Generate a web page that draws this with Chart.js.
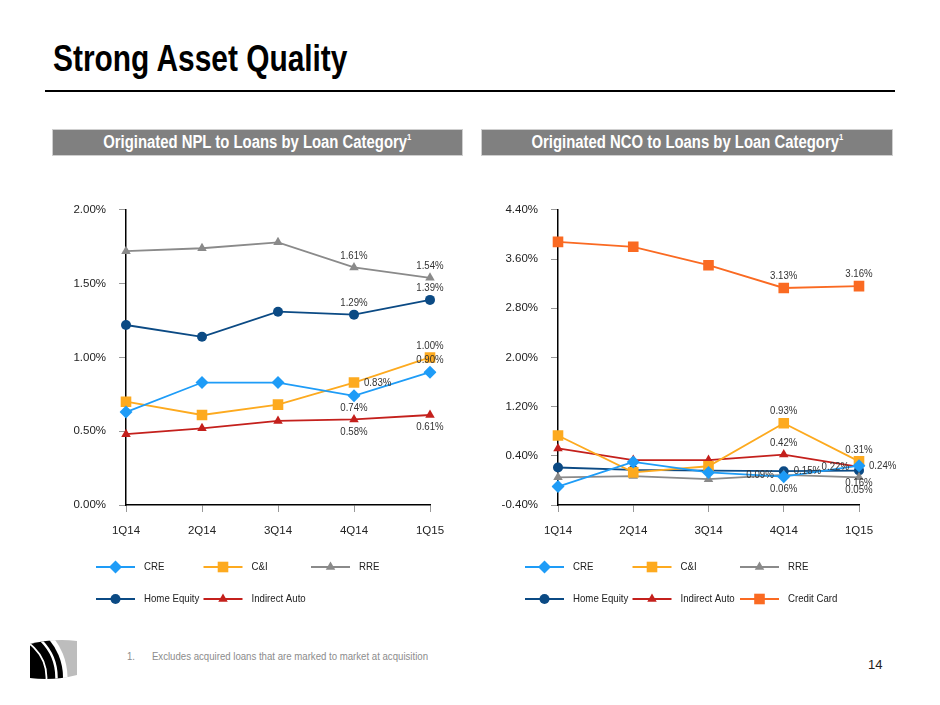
<!DOCTYPE html>
<html>
<head>
<meta charset="utf-8">
<script src="https://cdn.jsdelivr.net/npm/chart.js@4.4.1/dist/chart.umd.min.js"></script>
<style>
  body { margin: 0; background: #fff; width: 940px; height: 705px; position: relative; overflow: hidden;
         font-family: "Liberation Sans", Arial, sans-serif; }
  .narrow { display: inline-block; white-space: nowrap; transform: scaleX(0.83); transform-origin: 0 0; }
  #title { position: absolute; left: 53px; top: 41px; font-size: 36px; font-weight: bold; line-height: 36px; color: #000; }
  #rule { position: absolute; left: 45px; top: 90px; width: 850px; height: 2px; background: #000; }
  .band { position: absolute; top: 129px; height: 27px; background: #808080; border: 1px solid #cfcfcf;
          box-sizing: border-box; color: #fff; font-weight: bold; font-size: 17.5px; line-height: 25px; text-align: center; }
  .band .narrow { transform: scaleX(0.85); transform-origin: 50% 0; }
  .band sup { font-size: 9px; line-height: 9px; vertical-align: top; position: relative; top: 3px; }
  .cbox { position: absolute; top: 190px; width: 440px; height: 430px; }
  #note { position: absolute; left: 127px; top: 650px; font-size: 11px; color: #8c8c8c; }
  #note .narrow { transform: scaleX(0.875); }
  #note b { font-weight: normal; display: inline-block; width: 28.5px; }
  #page { position: absolute; left: 868px; top: 657px; font-size: 13px; color: #222; }
  #logo { position: absolute; left: 29px; top: 637px; }
</style>
</head>
<body>
<div id="title"><span class="narrow">Strong Asset Quality</span></div>
<div id="rule"></div>
<div class="band" style="left:52px;width:411px"><span class="narrow">Originated NPL to Loans by Loan Category<sup>1</sup></span></div>
<div class="band" style="left:481px;width:412px"><span class="narrow">Originated NCO to Loans by Loan Category<sup>1</sup></span></div>

<div class="cbox" style="left:40px"><canvas id="npl" width="440" height="430"></canvas></div>
<div class="cbox" style="left:472px"><canvas id="nco" width="440" height="430"></canvas></div>

<svg id="logo" width="50" height="44" viewBox="0 0 50 44">
  <defs><clipPath id="lc"><path d="M1,7 Q25,1 48,4 L48,38 Q25,44 1,41 Z"/></clipPath></defs>
  <g clip-path="url(#lc)">
    <rect x="0" y="0" width="50" height="44" fill="#bdbdbd"/>
    <circle cx="-24.5" cy="40.5" r="63" fill="#fff"/>
    <circle cx="-24.5" cy="40.5" r="58.5" fill="#000"/>
    <circle cx="-24.5" cy="40.5" r="52" fill="none" stroke="#fff" stroke-width="2.5"/>
    <circle cx="-24.5" cy="40.5" r="42" fill="none" stroke="#fff" stroke-width="1.8"/>
  </g>
</svg>
<div id="note"><span class="narrow"><b>1.</b>Excludes acquired loans that are marked to market at acquisition</span></div>
<div id="page">14</div>

<script>
const quarters = ['1Q14', '2Q14', '3Q14', '4Q14', '1Q15'];

// originated NPL to loans, %
const nplCRE = [0.63, 0.83, 0.83, 0.74, 0.90];
const nplCI = [0.70, 0.61, 0.68, 0.83, 1.00];
const nplRRE = [1.72, 1.74, 1.78, 1.61, 1.54];
const nplHomeEquity = [1.22, 1.14, 1.31, 1.29, 1.39];
const nplIndirectAuto = [0.48, 0.52, 0.57, 0.58, 0.61];
const nplTicks = [0, 0.5, 1.0, 1.5, 2.0];

// originated NCO to loans, %
const ncoCRE = [-0.10, 0.30, 0.13, 0.06, 0.24];
const ncoCI = [0.73, 0.13, 0.23, 0.93, 0.31];
const ncoRRE = [0.05, 0.07, 0.02, 0.09, 0.05];
const ncoHomeEquity = [0.21, 0.17, 0.16, 0.15, 0.16];
const ncoIndirectAuto = [0.52, 0.33, 0.33, 0.42, 0.22];
const ncoCreditCard = [3.88, 3.80, 3.50, 3.13, 3.16];
const ncoTicks = [-0.4, 0.4, 1.2, 2.0, 2.8, 3.6, 4.4];

const FONT = '"Liberation Sans", Arial, sans-serif';

const look = {
  'CRE': { color: '#1E9CF7', pointStyle: 'rectRot', radius: 6.5 },
  'C&I': { color: '#FDAA1F', pointStyle: 'rect', radius: 7.5 },
  'RRE': { color: '#8A8A8A', pointStyle: 'triangle', radius: 5.5 },
  'Home Equity': { color: '#0B4A84', pointStyle: 'circle', radius: 5 },
  'Indirect Auto': { color: '#C4201C', pointStyle: 'triangle', radius: 5.5 },
  'Credit Card': { color: '#FA6A22', pointStyle: 'rect', radius: 7.5 }
};

// where the value tags sit, by series and point index
const nplTags = {
  'RRE': { 3: 'above', 4: 'above' },
  'Home Equity': { 3: 'above', 4: 'above' },
  'C&I': { 3: 'right', 4: 'above' },
  'CRE': { 3: 'below', 4: 'above' },
  'Indirect Auto': { 3: 'below', 4: 'below' }
};
const ncoTags = {
  'Credit Card': { 3: 'above', 4: 'above' },
  'C&I': { 3: 'above', 4: 'above' },
  'Indirect Auto': { 3: 'above', 4: 'left' },
  'Home Equity': { 3: 'right', 4: 'below' },
  'RRE': { 3: 'left', 4: 'below' },
  'CRE': { 3: 'below', 4: 'right' }
};

function series(label, values) {
  const s = look[label];
  return {
    label: label,
    data: values,
    borderColor: s.color,
    backgroundColor: s.color,
    borderWidth: 1.8,
    pointStyle: s.pointStyle,
    pointRadius: s.radius,
    pointBorderWidth: 0,
    pointBackgroundColor: s.color
  };
}

// text squeezed sideways, like the narrow face of the original
function narrowText(ctx, txt, x, y, align, size) {
  ctx.save();
  ctx.font = size + 'px ' + FONT;
  ctx.textAlign = align;
  ctx.textBaseline = 'middle';
  ctx.translate(x, y);
  ctx.scale(0.84, 1);
  ctx.fillText(txt, 0, 0);
  ctx.restore();
}

const pointTags = {
  id: 'pointTags',
  afterDatasetsDraw(chart, args, opts) {
    const ctx = chart.ctx;
    chart.data.datasets.forEach((ds, i) => {
      const where = opts.at[ds.label];
      if (!where) return;
      const meta = chart.getDatasetMeta(i);
      Object.keys(where).forEach(k => {
        const p = meta.data[k];
        const txt = ds.data[k].toFixed(2) + '%';
        let x = p.x, y = p.y, align = 'center';
        if (where[k] === 'above') y -= 12;
        else if (where[k] === 'below') y += 12;
        else if (where[k] === 'right') { x += 10; align = 'left'; }
        else if (where[k] === 'left') { x -= 10; align = 'right'; }
        ctx.fillStyle = '#333';
        narrowText(ctx, txt, x, y, align, 11.5);
      });
    });
  }
};

const rowLegend = {
  id: 'rowLegend',
  afterDraw(chart, args, opts) {
    const ctx = chart.ctx;
    chart.data.datasets.forEach((ds, i) => {
      const x = opts.x + (i % 3) * 107.5;
      const y = opts.y + Math.floor(i / 3) * 32;
      ctx.save();
      ctx.strokeStyle = ds.borderColor;
      ctx.lineWidth = 2;
      ctx.beginPath();
      ctx.moveTo(x, y);
      ctx.lineTo(x + 39, y);
      ctx.stroke();
      ctx.fillStyle = ds.backgroundColor;
      Chart.helpers.drawPoint(ctx, { pointStyle: ds.pointStyle, radius: ds.pointRadius, borderWidth: 0 }, x + 19.5, y);
      ctx.restore();
      ctx.fillStyle = '#222';
      narrowText(ctx, ds.label, x + 48, y, 'left', 11.5);
    });
  }
};

function makeChart(id, datasets, ticks, tags, padRight, legendX) {
  return new Chart(document.getElementById(id), {
    type: 'line',
    data: { labels: quarters, datasets: datasets },
    plugins: [pointTags, rowLegend],
    options: {
      responsive: false,
      animation: false,
      layout: { padding: { left: 0, right: padRight, top: 18, bottom: 80 } },
      plugins: {
        legend: { display: false },
        tooltip: { enabled: false },
        pointTags: { at: tags },
        rowLegend: { x: legendX, y: 377 }
      },
      scales: {
        x: {
          offset: false,
          grid: { drawOnChartArea: false, tickLength: 7, color: '#999' },
          border: { color: '#000', width: 1.5 },
          ticks: { padding: 12, color: '#222', font: { family: FONT, size: 11.5 } },
          afterFit(s) { s.height = 35; }
        },
        y: {
          min: ticks[0],
          max: ticks[ticks.length - 1],
          afterBuildTicks(s) { s.ticks = ticks.map(v => ({ value: v })); },
          grid: { drawOnChartArea: false, tickLength: 7, color: '#999' },
          border: { color: '#000', width: 1.5 },
          ticks: { padding: 13, color: '#222', font: { family: FONT, size: 11.5 },
                   callback: v => v.toFixed(2) + '%' },
          afterFit(s) { s.width = 86; }
        }
      }
    }
  });
}

makeChart('npl', [
  series('CRE', nplCRE),
  series('C&I', nplCI),
  series('RRE', nplRRE),
  series('Home Equity', nplHomeEquity),
  series('Indirect Auto', nplIndirectAuto)
], nplTicks, nplTags, 50, 56);

makeChart('nco', [
  series('CRE', ncoCRE),
  series('C&I', ncoCI),
  series('RRE', ncoRRE),
  series('Home Equity', ncoHomeEquity),
  series('Indirect Auto', ncoIndirectAuto),
  series('Credit Card', ncoCreditCard)
], ncoTicks, ncoTags, 53, 53);
</script>
</body>
</html>
